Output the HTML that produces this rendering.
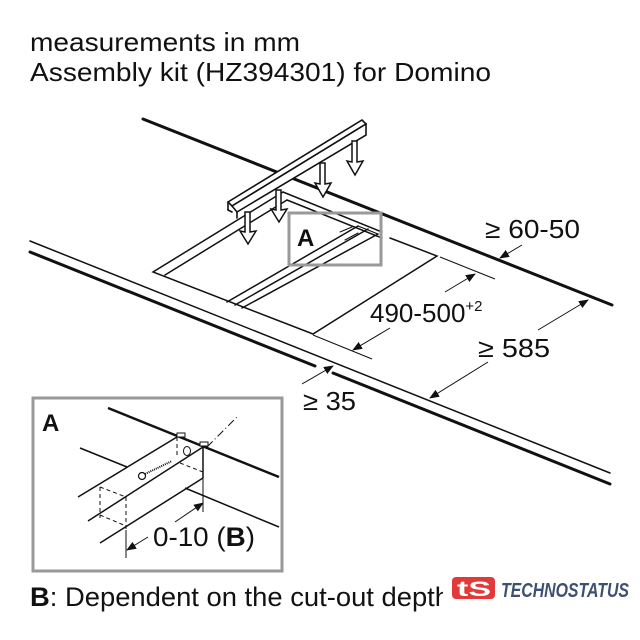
<!DOCTYPE html>
<html><head><meta charset="utf-8"><style>
html,body{margin:0;padding:0;background:#fff;}
svg{display:block;}
text{font-family:"Liberation Sans",sans-serif;fill:#111;}
</style></head><body>
<svg width="640" height="640" viewBox="0 0 640 640" xmlns="http://www.w3.org/2000/svg">
<defs>
<marker id="ah" markerWidth="10" markerHeight="8" refX="9" refY="4" orient="auto" markerUnits="userSpaceOnUse">
<path d="M0,0 L10,4 L0,8 Z" fill="#111"/>
</marker>
</defs>
<text x="30" y="51" font-size="26" textLength="270" lengthAdjust="spacingAndGlyphs">measurements in mm</text>
<text x="30" y="81" font-size="26" textLength="461" lengthAdjust="spacingAndGlyphs">Assembly kit (HZ394301) for Domino</text>

<g stroke="#111" fill="none" stroke-linecap="round">
<line x1="143" y1="119" x2="612" y2="305" stroke-width="3"/>
<line x1="30" y1="241" x2="610" y2="473" stroke-width="1.5"/>
<line x1="30" y1="252" x2="315" y2="366" stroke-width="3"/>
<line x1="333" y1="373" x2="610" y2="484" stroke-width="3"/>

<polyline points="283,192 153,272 313,334 437,256 390,238" stroke-width="1.5"/>
<line x1="165" y1="275" x2="287" y2="200" stroke-width="1.5"/>
<line x1="287" y1="200" x2="382" y2="238" stroke-width="1.5"/>
<line x1="283" y1="192" x2="382" y2="232" stroke-width="1.5"/>
<line x1="227" y1="302" x2="358" y2="226" stroke-width="1.5"/>
<line x1="235" y1="305" x2="368" y2="229" stroke-width="1.5"/>
<line x1="242" y1="308" x2="378" y2="234" stroke-width="1.5"/>
<line x1="358" y1="226" x2="378" y2="234" stroke-width="1.2"/>
<line x1="340" y1="232" x2="352" y2="227" stroke-width="1"/>
<line x1="345" y1="240" x2="358" y2="233" stroke-width="1"/>

<polygon points="228,202 362,120 366,124 232,206" fill="#fff" stroke-width="1.6"/>
<polygon points="232,206 366,124 366,135 237,212" fill="#fff" stroke-width="1.6"/>
<line x1="228" y1="202" x2="228" y2="210" stroke-width="1.6"/>
<line x1="228" y1="210" x2="232" y2="212" stroke-width="1.6"/>
<line x1="237" y1="212" x2="237" y2="218" stroke-width="1.6"/>

<g fill="#fff" stroke-width="1.5">
<path d="M245,212 l5,0 l0,20 l6,-1 l-8,13 l-8,-13 l5,1 z"/>
<path d="M276,190 l5,0 l0,20 l6,-1 l-8,13 l-8,-13 l5,1 z"/>
<path d="M320,163 l5,0 l0,21 l6,-1 l-8,14 l-8,-14 l5,1 z"/>
<path d="M352,141 l5,0 l0,21 l6,-1 l-8,14 l-8,-14 l5,1 z"/>
</g>
</g>

<rect x="289" y="213" width="92" height="52" fill="none" stroke="#999" stroke-width="3"/>
<text x="297" y="246" font-size="24" font-weight="bold">A</text>

<g stroke="#111" stroke-width="1" fill="none">
<line x1="440" y1="257" x2="495" y2="279"/>
<line x1="313" y1="335" x2="372" y2="359"/>
<line x1="445" y1="292" x2="475" y2="274" marker-end="url(#ah)"/>
<line x1="390" y1="328" x2="353" y2="350" marker-end="url(#ah)"/>
<line x1="522" y1="245" x2="500" y2="258" marker-end="url(#ah)"/>
<line x1="538" y1="330" x2="588" y2="300" marker-end="url(#ah)"/>
<line x1="488" y1="362" x2="430" y2="398" marker-end="url(#ah)"/>
<line x1="302" y1="384" x2="333" y2="366" marker-end="url(#ah)"/>
</g>
<text x="485" y="238" font-size="26" textLength="95" lengthAdjust="spacingAndGlyphs">≥ 60-50</text>
<text x="370" y="322" font-size="26">490-500<tspan font-size="15" dy="-11">+2</tspan></text>
<text x="478" y="357" font-size="26" textLength="72" lengthAdjust="spacingAndGlyphs">≥ 585</text>
<text x="303" y="410" font-size="26" textLength="53" lengthAdjust="spacingAndGlyphs">≥ 35</text>

<rect x="33" y="398" width="249" height="173" fill="none" stroke="#999" stroke-width="3"/>
<text x="42" y="431" font-size="24" font-weight="bold">A</text>
<g stroke="#111" fill="none">
<line x1="108" y1="408" x2="279" y2="477" stroke-width="2.5"/>
<line x1="80" y1="448" x2="127" y2="467" stroke-width="1.5"/>
<line x1="185" y1="488" x2="279" y2="527" stroke-width="1.5"/>
<line x1="78" y1="497" x2="177" y2="437" stroke-width="1.5"/>
<line x1="88" y1="521" x2="203" y2="447" stroke-width="1.5"/>
<line x1="100" y1="543" x2="203" y2="478" stroke-width="1.5"/>
<line x1="203" y1="447" x2="203" y2="478" stroke-width="1.5"/>
<line x1="203" y1="478" x2="203" y2="512" stroke-width="1"/>
<line x1="126" y1="530" x2="126" y2="558" stroke-width="1"/>
<g stroke-dasharray="4,3" stroke-width="1">
<line x1="100" y1="487" x2="100" y2="518"/>
<line x1="126" y1="497" x2="126" y2="530"/>
<line x1="100" y1="487" x2="126" y2="497"/>
<line x1="100" y1="515" x2="126" y2="526"/>
<line x1="177" y1="437" x2="177" y2="458"/>
<line x1="180" y1="463" x2="203" y2="472"/>
</g>
<line x1="207" y1="447" x2="237" y2="417" stroke-width="1" stroke-dasharray="8,3,1,3"/>
<rect x="177" y="433" width="8" height="4" stroke-width="1" fill="#fff"/>
<rect x="200" y="442" width="8" height="4" stroke-width="1" fill="#fff"/>
<ellipse cx="187" cy="451" rx="3.5" ry="4.5" stroke-width="1"/>
<line x1="145" y1="474" x2="172" y2="461" stroke-width="2" stroke-dasharray="1,1"/>
<circle cx="142" cy="476" r="3.5" stroke-width="1.2" fill="#fff"/>
<line x1="175" y1="522" x2="203" y2="503" stroke-width="1" marker-end="url(#ah)"/>
<line x1="148" y1="537" x2="127" y2="550" stroke-width="1" marker-end="url(#ah)"/>
</g>
<text x="153" y="546" font-size="27" textLength="102" lengthAdjust="spacingAndGlyphs">0-10 (<tspan font-weight="bold">B</tspan>)</text>

<text x="30" y="606" font-size="27" textLength="420" lengthAdjust="spacingAndGlyphs"><tspan font-weight="bold">B</tspan>: Dependent on the cut-out depth</text>
<rect x="443" y="570" width="197" height="40" fill="#fff"/>
<rect x="452" y="577" width="43" height="22" rx="4" fill="#e23a3a"/>
<text x="457" y="596" font-size="21" font-weight="bold" style="fill:#fff" textLength="34" lengthAdjust="spacingAndGlyphs">tS</text>
<text x="501" y="597" font-size="20" font-weight="bold" font-style="italic" style="fill:#3d4f72;font-family:'Liberation Sans Narrow','Liberation Sans',sans-serif" textLength="128" lengthAdjust="spacingAndGlyphs">TECHNOSTATUS</text>
</svg>
</body></html>
